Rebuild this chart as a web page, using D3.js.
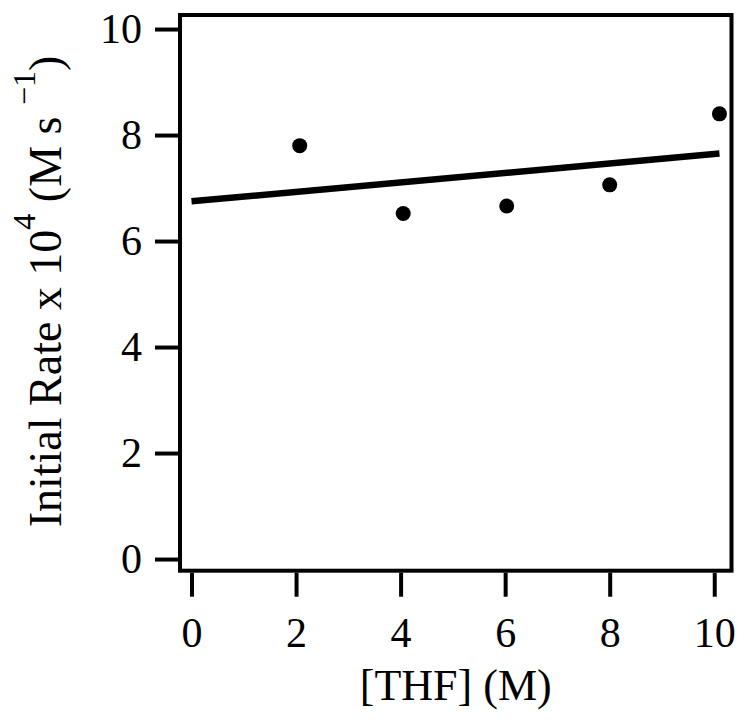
<!DOCTYPE html>
<html>
<head>
<meta charset="utf-8">
<script src="https://cdn.jsdelivr.net/npm/d3@7"></script>
<style>
  html, body { margin: 0; padding: 0; background: #fff; }
  svg { display: block; }
  text { font-family: "Liberation Serif", "Times New Roman", serif; fill: #000; }
</style>
</head>
<body>
<svg id="chart" width="746" height="722"></svg>
<script>
// Data
const thf = [2.07, 4.05, 6.03, 8.0, 10.1];
const rate = [7.80, 6.52, 6.66, 7.06, 8.40];
const fitX = [0, 10.1];
const fitY = [6.75, 7.65];
const xTicks = [0, 2, 4, 6, 8, 10];
const yTicks = [0, 2, 4, 6, 8, 10];

const svg = d3.select("#chart");
const frame = { left: 180, right: 731.5, top: 15, bottom: 570.7 };

const x = d3.scaleLinear().domain([-0.22, 10.33]).range([frame.left, frame.right]);
const y = d3.scaleLinear().domain([-0.22, 10.265]).range([frame.bottom, frame.top]);

// Frame
svg.append("rect")
  .attr("x", frame.left).attr("y", frame.top)
  .attr("width", frame.right - frame.left)
  .attr("height", frame.bottom - frame.top)
  .attr("fill", "none").attr("stroke", "#000").attr("stroke-width", 4);

// Y axis
const gy = svg.append("g")
  .attr("transform", `translate(${frame.left - 1},0)`)
  .call(d3.axisLeft(y).tickValues(yTicks).tickSize(24).tickPadding(13).tickFormat(d3.format("d")));
gy.select(".domain").remove();
gy.selectAll(".tick line").attr("stroke", "#000").attr("stroke-width", 4);
gy.selectAll(".tick text").attr("font-size", 42).attr("font-family", "Liberation Serif").attr("fill", "#000");

// X axis
const gx = svg.append("g")
  .attr("transform", `translate(0,${frame.bottom + 2})`)
  .call(d3.axisBottom(x).tickValues(xTicks).tickSize(24).tickPadding(20).tickFormat(d3.format("d")));
gx.select(".domain").remove();
gx.selectAll(".tick line").attr("stroke", "#000").attr("stroke-width", 4);
gx.selectAll(".tick text").attr("font-size", 42).attr("font-family", "Liberation Serif").attr("fill", "#000");

// Fit line
const fit = fitX.map((d, i) => [d, fitY[i]]);
svg.append("path")
  .datum(fit)
  .attr("d", d3.line().x(d => x(d[0])).y(d => y(d[1])))
  .attr("fill", "none").attr("stroke", "#000").attr("stroke-width", 6.5);

// Points
svg.selectAll("circle.pt")
  .data(thf.map((d, i) => [d, rate[i]]))
  .join("circle")
  .attr("class", "pt")
  .attr("cx", d => x(d[0])).attr("cy", d => y(d[1]))
  .attr("r", 7.5).attr("fill", "#000");

// X title
svg.append("text")
  .attr("x", (frame.left + frame.right) / 2)
  .attr("y", 700)
  .attr("text-anchor", "middle")
  .attr("font-size", 44)
  .text("[THF] (M)");

// Y title
const yt = svg.append("text")
  .attr("transform", `translate(61,${(60 + 523) / 2}) rotate(-90)`)
  .attr("text-anchor", "middle")
  .attr("font-size", 46);
yt.append("tspan").text("Initial Rate x 10");
yt.append("tspan").attr("font-size", 32).attr("dy", -26).text("4");
yt.append("tspan").attr("dy", 26).text(" (M s ");
yt.append("tspan").attr("font-size", 32).attr("dy", -26).text("\u22121");
yt.append("tspan").attr("dy", 26).text(")");
</script>
</body>
</html>
